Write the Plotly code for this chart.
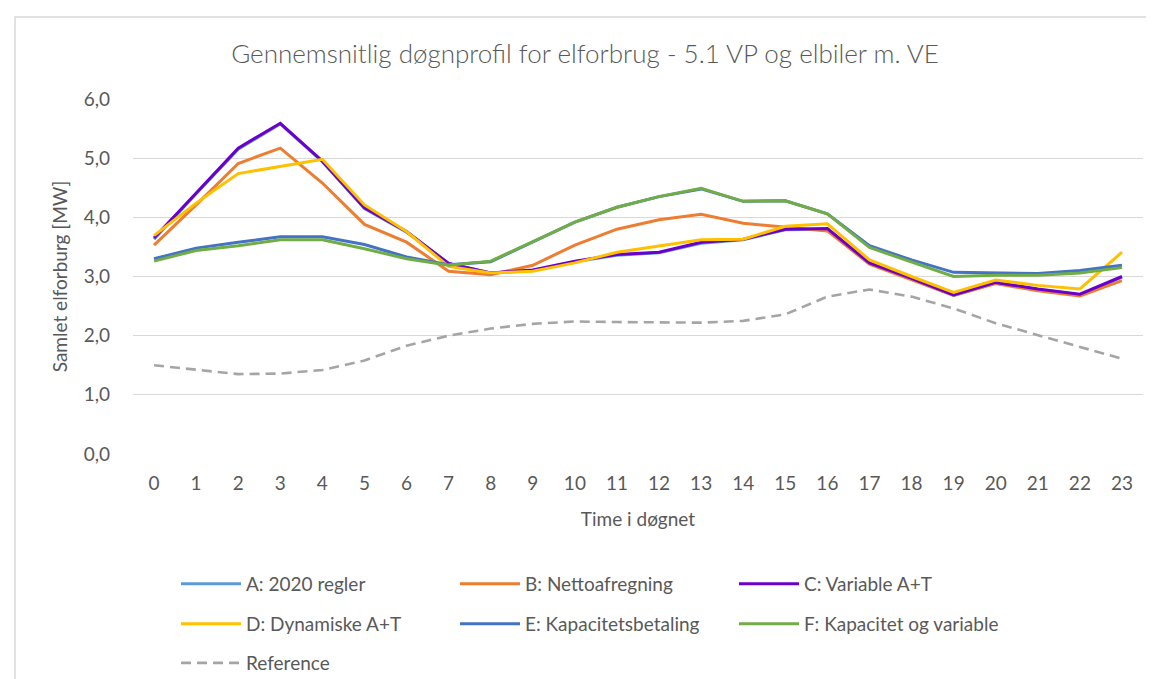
import plotly.graph_objects as go

hours = list(range(24))
hour_labels = [str(h) for h in hours]

series_names = ["A: 2020 regler", "B: Nettoafregning", "C: Variable A+T",
                "D: Dynamiske A+T", "E: Kapacitetsbetaling", "F: Kapacitet og variable",
                "Reference"]

a_2020 = [3.63, 4.40, 5.15, 5.58, 4.94, 4.15, 3.75, 3.22, 3.06, 3.10, 3.25, 3.36,
          3.40, 3.56, 3.62, 3.79, 3.80, 3.22, 2.96, 2.68, 2.89, 2.78, 2.69, 2.99]
b_netto = [3.53, 4.21, 4.91, 5.17, 4.58, 3.88, 3.58, 3.09, 3.03, 3.19, 3.53, 3.80,
           3.96, 4.05, 3.90, 3.83, 3.77, 3.21, 2.95, 2.68, 2.88, 2.76, 2.67, 2.93]
c_variable = [3.65, 4.41, 5.17, 5.59, 4.95, 4.16, 3.76, 3.22, 3.06, 3.11, 3.26, 3.37,
              3.41, 3.58, 3.63, 3.80, 3.81, 3.23, 2.97, 2.69, 2.90, 2.79, 2.70, 3.00]
d_dynamisk = [3.69, 4.24, 4.74, 4.86, 4.98, 4.21, 3.76, 3.17, 3.06, 3.09, 3.23, 3.41,
              3.51, 3.62, 3.63, 3.85, 3.89, 3.28, 3.00, 2.73, 2.94, 2.85, 2.79, 3.41]
e_kapacitet = [3.30, 3.48, 3.58, 3.67, 3.67, 3.54, 3.33, 3.20, 3.25, 3.59, 3.92, 4.17,
               4.35, 4.48, 4.27, 4.28, 4.06, 3.52, 3.28, 3.07, 3.06, 3.05, 3.10, 3.19]
f_kap_var = [3.26, 3.44, 3.52, 3.62, 3.62, 3.47, 3.30, 3.19, 3.26, 3.59, 3.92, 4.17,
             4.35, 4.49, 4.27, 4.28, 4.06, 3.49, 3.24, 3.00, 3.02, 3.02, 3.06, 3.15]
reference = [1.50, 1.43, 1.35, 1.36, 1.42, 1.58, 1.83, 2.00, 2.12, 2.20, 2.24, 2.23,
             2.22, 2.22, 2.25, 2.36, 2.66, 2.78, 2.66, 2.46, 2.21, 2.01, 1.80, 1.61]

y_ticks = [0, 1, 2, 3, 4, 5, 6]

series = [a_2020, b_netto, c_variable, d_dynamisk, e_kapacitet, f_kap_var, reference]
colors = ["#5B9BD5", "#ED7D31", "#6A00CC", "#FFC000", "#4472C4", "#70AD47", "#A5A5A5"]
legend_ids = ["legend", "legend", "legend", "legend2", "legend2", "legend2", "legend3"]

FONT = "Lato"
GREY = "#595959"

fig = go.Figure()
for name, vals, col, lg in zip(series_names, series, colors, legend_ids):
    is_ref = name == "Reference"
    fig.add_trace(go.Scatter(
        x=hours, y=vals, mode="lines", name=name,
        line=dict(color=col, width=2.6 if is_ref else 3,
                  dash="10px,6px" if is_ref else "solid"),
        legend=lg,
    ))

W, H = 1154, 679
L, R, T, B = 125, 19, 91, 233
pw, ph = W - L - R, H - T - B

def px_x(x):
    return (x - L) / pw

def px_y(y):
    return (H - B - y) / ph

leg_common = dict(
    orientation="h", xanchor="left", yanchor="middle",
    font=dict(family=FONT, size=19, color=GREY),
    bgcolor="rgba(0,0,0,0)", itemwidth=60,
    entrywidth=204, entrywidthmode="pixels",
)

fig.update_layout(
    width=W, height=H,
    margin=dict(l=L, r=R, t=T, b=B, autoexpand=False),
    paper_bgcolor="white", plot_bgcolor="white",
    separators=",.",
    font=dict(family=FONT, size=19, color=GREY),
    title=dict(text="Gennemsnitlig døgnprofil for elforbrug - 5.1 VP og elbiler m. VE",
               x=0.5, xref="container", xanchor="center",
               y=1 - 46 / H, yref="container", yanchor="middle",
               font=dict(family=FONT, size=26, color=GREY, weight=300)),
    xaxis=dict(
        tickmode="array", tickvals=hours, ticktext=hour_labels,
        range=[-0.5, 23.5], showgrid=False, zeroline=False, showline=False,
        ticks="", ticklabelstandoff=16,
        tickfont=dict(family=FONT, size=19, color=GREY),
        title=dict(text="Time i døgnet", standoff=19,
                   font=dict(family=FONT, size=19, color=GREY)),
    ),
    yaxis=dict(
        range=[0, 6], tickvals=y_ticks, tickformat=".1f",
        showgrid=True, gridcolor="#D9D9D9", gridwidth=1.3,
        zeroline=False, showline=False, ticks="",
        ticklabelstandoff=22,
        tickfont=dict(family=FONT, size=19, color=GREY),
        title=dict(text="Samlet elforburg [MW]", standoff=10,
                   font=dict(family=FONT, size=19, color=GREY)),
    ),
    legend=dict(x=px_x(168), y=px_y(576), **leg_common),
    legend2=dict(x=px_x(168), y=px_y(616), **leg_common),
    legend3=dict(x=px_x(168), y=px_y(655), **leg_common),
    shapes=[dict(type="rect", xref="paper", yref="paper",
                 x0=px_x(7), x1=px_x(1170), y0=px_y(700), y1=px_y(9),
                 line=dict(color="#D9D9D9", width=1.5), layer="below")],
)

fig.write_html("out.html")
